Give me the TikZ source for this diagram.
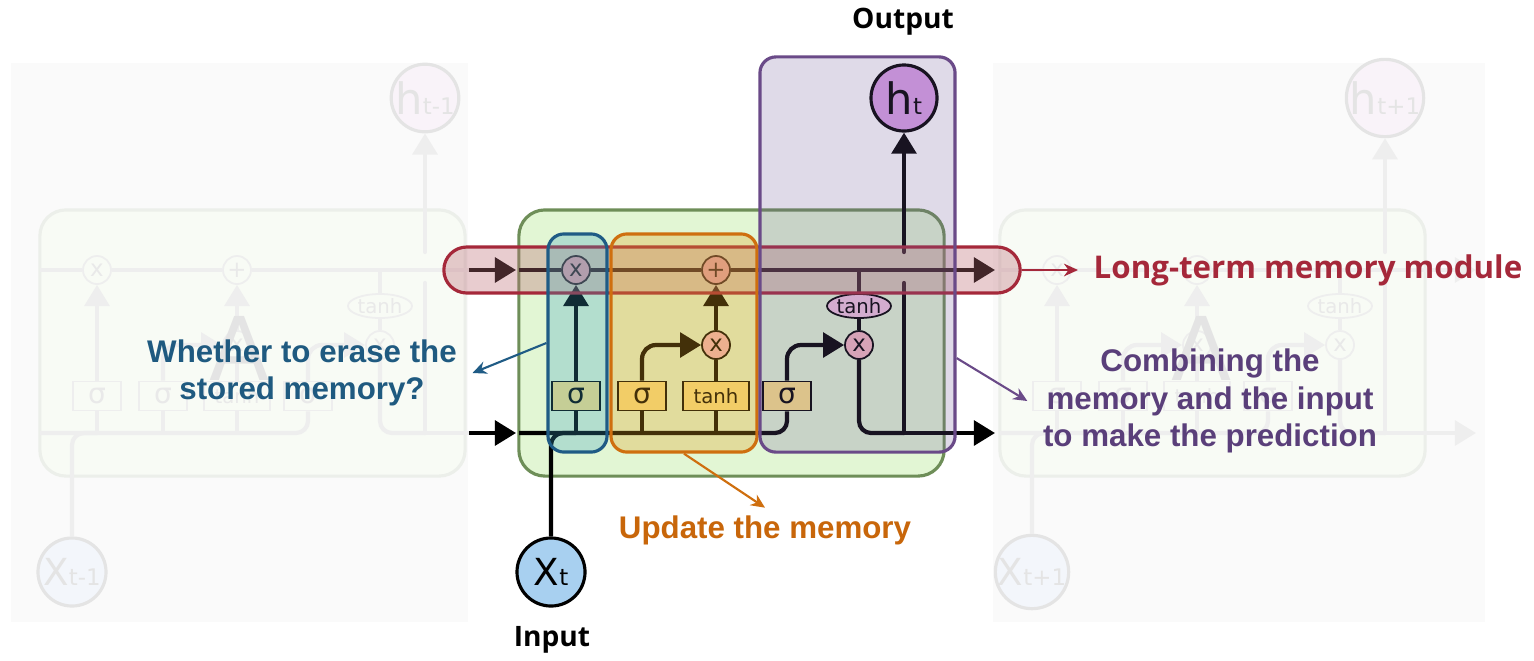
\documentclass[tikz,border=0pt]{standalone}
\usepackage{fontspec}
\setmainfont{Liberation Sans}
\newfontfamily\cellfont{DejaVu Sans}
\newfontfamily\headfont{Open Sans}
\usepackage{tikz}
\usetikzlibrary{positioning,arrows.meta,calc,shapes.geometric}
\definecolor{lmred}{RGB}{165,40,58}
\definecolor{lmblue}{RGB}{31,91,133}
\definecolor{lmorange}{RGB}{207,111,15}
\definecolor{lmpurple}{RGB}{106,74,136}
\definecolor{lmgreen}{RGB}{110,142,88}
\definecolor{txblue}{RGB}{31,90,128}
\definecolor{txorange}{RGB}{200,102,10}
\definecolor{txpurple}{RGB}{90,63,122}
\definecolor{cellfill}{RGB}{226,246,212}
\definecolor{gatefill}{RGB}{251,225,135}
\definecolor{opfill}{RGB}{244,184,192}
\definecolor{ovalfill}{RGB}{240,196,222}
\definecolor{xfill}{RGB}{168,208,240}
\definecolor{hfill}{RGB}{219,160,232}
\definecolor{redwash}{RGB}{190,110,120}
\definecolor{bluewash}{RGB}{58,160,192}
\definecolor{orangewash}{RGB}{224,160,32}
\definecolor{purplewash}{RGB}{111,90,154}
\definecolor{ghostpanel}{RGB}{250,250,250}
\definecolor{ghostcell}{RGB}{248,251,245}
\definecolor{ghostedge}{RGB}{236,239,234}
\definecolor{ghostline}{RGB}{238,238,238}
\definecolor{ghosttext}{RGB}{233,233,233}
\definecolor{ghostring}{RGB}{228,228,228}
\definecolor{ghostA}{RGB}{228,228,228}
\definecolor{ghostx}{RGB}{243,246,251}
\definecolor{ghosth}{RGB}{249,243,249}
\def\ytop{270} \def\ybot{433}
% one LSTM cell, in the picture's pixel frame; #1 name prefix, #2/#3 subscripts
\newcommand{\lstmcell}[3]{%
  \node[cellbox] (#1cell) at (731.5,343) {};
  \coordinate (#1cw) at (519,\ytop);
  \coordinate (#1bw) at (519,\ybot);
  \coordinate (#1ce) at (995,\ytop);
  \coordinate (#1be) at (995,\ybot);
  \coordinate (#1tj) at (859,\ytop);
  \coordinate (#1hj) at (904,\ybot);
  \coordinate (#1gl) at (904,283);
  \coordinate (#1gu) at (904,252);
  \node[gatebox, minimum width=0.48cm] (#1sf) at (576,396) {σ};
  \node[gatebox, minimum width=0.48cm] (#1si) at (642,396) {σ};
  \node[gatebox, minimum width=0.66cm] (#1tc) at (716,396) {\fontsize{5.6}{6}\selectfont tanh};
  \node[gatebox, minimum width=0.48cm] (#1so) at (787,396) {σ};
  \node[pointop] (#1mf) at (576,\ytop) {x};
  \node[pointop] (#1add) at (716,\ytop) {+};
  \node[pointop] (#1mi) at (716,345) {x};
  \node[pointop] (#1mo) at (859,345) {x};
  \node[tanhoval] (#1th) at (859,306) {tanh};
  \node[xcirc] (#1x) at (551,572) {\fontsize{10.6}{10}\selectfont X\fontsize{6.5}{6}\selectfont #2};
  \node[hcirc] (#1h) at (904,98) {\fontsize{12.3}{12}\selectfont h\fontsize{6.5}{6}\selectfont #3};
  % cell state along the top
  \draw[wire] (#1cw) -- (#1mf);
  \draw[wire] (#1mf) -- (#1add);
  \draw[flowarr] (#1add) -- (#1ce);
  % hidden state along the bottom, into the gates
  \draw[wire, rounded corners=0.12cm] (#1bw) -| (#1so);
  \draw[wire, rounded corners=0.12cm] (#1x) |- (#1sf |- #1bw);
  \draw[wire] (#1sf) -- (#1sf |- #1bw);
  \draw[wire] (#1si) -- (#1si |- #1bw);
  \draw[wire] (#1tc) -- (#1tc |- #1bw);
  \draw[flowarr] (#1sf) -- (#1mf);
  \draw[flowarr, rounded corners=0.14cm] (#1si) |- (#1mi);
  \draw[wire] (#1tc) -- (#1mi);
  \draw[flowarr] (#1mi) -- (#1add);
  \draw[flowarr, rounded corners=0.14cm] (#1so) |- (#1mo);
  % output branch
  \draw[wire] (#1tj) -- (#1th);
  \draw[wire] (#1th) -- (#1mo);
  \draw[wire, rounded corners=0.12cm] (#1mo) |- (#1hj);
  \draw[flowarr] (#1hj) -- (#1be);
  \draw[wire, line cap=round] (#1hj) -- (#1gl);
  \draw[flowarr, line cap=round] (#1gu) -- (#1h);
}
\tikzset{
  wire/.style={draw=black, line width=1.2pt},
  flowarr/.style={wire, -{Triangle[length=6pt,width=7pt]}},
  cellbox/.style={draw=lmgreen, line width=0.9pt, fill=cellfill, rounded corners=0.26cm,
                  minimum width=4.25cm, minimum height=2.66cm},
  gatebox/.style={draw=black, line width=0.5pt, fill=gatefill, inner sep=0pt,
                  minimum height=0.29cm, font=\cellfont\fontsize{8}{8}\selectfont},
  pointop/.style={circle, draw=black, line width=0.5pt, fill=opfill, inner sep=0pt,
                  minimum size=0.28cm, font=\cellfont\fontsize{6.5}{6.5}\selectfont},
  tanhoval/.style={ellipse, draw=black, line width=0.5pt, fill=ovalfill, inner sep=0pt,
                   minimum width=0.64cm, minimum height=0.24cm,
                   font=\cellfont\fontsize{5.6}{6}\selectfont},
  xcirc/.style={circle, draw=black, line width=0.9pt, fill=xfill, minimum size=0.68cm,
                inner sep=0pt, font=\cellfont},
  hcirc/.style={circle, draw=black, line width=0.9pt, fill=hfill, minimum size=0.66cm,
                inner sep=0pt, font=\cellfont},
  region/.style={line width=0.9pt, rounded corners=0.16cm},
  note/.style={line width=0.6pt, -{Stealth[length=4pt,width=3.6pt]}},
  notetext/.style={font=\bfseries\fontsize{8.9}{10.7}\selectfont, align=center,
                   inner xsep=0.15cm, inner ysep=2pt},
  headtext/.style={font=\headfont\bfseries\fontsize{8}{9}\selectfont},
  bigletter/.style={font=\cellfont\fontsize{25}{25}\selectfont, text=ghostA},
  ghostly/.style={
    wire/.append style={draw=ghostline},
    cellbox/.append style={draw=ghostedge, fill=ghostcell},
    gatebox/.append style={draw=ghostline, fill=ghostcell, text=ghosttext},
    pointop/.append style={draw=ghostline, fill=ghostcell, text=ghosttext},
    tanhoval/.append style={draw=ghostline, fill=ghostcell, text=ghosttext},
    xcirc/.append style={draw=ghostring, fill=ghostx, text=ghostring},
    hcirc/.append style={draw=ghostring, fill=ghosth, text=ghostring}},
}
\begin{document}
\begin{tikzpicture}[x=0.01cm, y=-0.01cm]
\useasboundingbox (0,0) rectangle (1534,660);
\fill[white] (0,0) rectangle (1534,660);

% faded neighbours, t-1 and t+1
\fill[ghostpanel] (11,63) rectangle (468,622);
\fill[ghostpanel] (993,63) rectangle (1485,622);
\begin{scope}[shift={(-479,0)}, ghostly]
  \lstmcell{L}{t-1}{t-1}
  \node[bigletter] (LA) at (719,348) {A};
\end{scope}
\begin{scope}[shift={(481,0)}, ghostly]
  \lstmcell{R}{t+1}{t+1}
  \node[bigletter] (RA) at (721,348) {A};
\end{scope}

% the cell at step t
\lstmcell{C}{t}{t}
\coordinate (intop) at (469,\ytop);
\coordinate (inbot) at (469,\ybot);
\draw[flowarr] (intop) -- (Lce);
\draw[flowarr] (inbot) -- (Lbe);

% highlighted parts
\node[region, draw=lmred, fill=redwash, fill opacity=0.35, rounded corners=0.23cm,
      minimum width=5.76cm, minimum height=0.46cm] (ltm) at (732,\ytop) {};
\node[region, draw=lmblue, fill=bluewash, fill opacity=0.28,
      minimum width=0.59cm, minimum height=2.18cm] (forgetbox) at (577.5,343) {};
\node[region, draw=lmorange, fill=orangewash, fill opacity=0.30,
      minimum width=1.46cm, minimum height=2.18cm] (updatebox) at (684,343) {};
\node[region, draw=lmpurple, fill=purplewash, fill opacity=0.22,
      minimum width=1.95cm, minimum height=3.95cm] (outbox) at (857.5,254.5) {};

% labels
\node[headtext] (outlabel) at (903,22) {Output};
\node[headtext] (inlabel) at (552,640) {Input};
\node[notetext, text=txblue] (erase) at (302,373) {Whether to erase the\\stored memory?};
\node[notetext, text=txorange] (update) at (765,530) {Update the memory};
\node[notetext, text=lmred, font=\headfont\bfseries\fontsize{8.9}{10.7}\selectfont,
      anchor=west] (ltmlabel) at (1078,\ytop) {Long-term memory module};
\node[notetext, text=txpurple] (combine) at (1210,401)
  {Combining the\\memory and the input\\to make the prediction};

\draw[note, lmblue] (forgetbox.west) -- (erase.east);
\draw[note, lmorange] (updatebox.south) -- (update.north);
\draw[note, lmred] (ltm.east) -- (ltmlabel.west);
\draw[note, lmpurple] ($(outbox.south east)!0.24!(outbox.north east)$) -- (combine.west);
\end{tikzpicture}
\end{document}
